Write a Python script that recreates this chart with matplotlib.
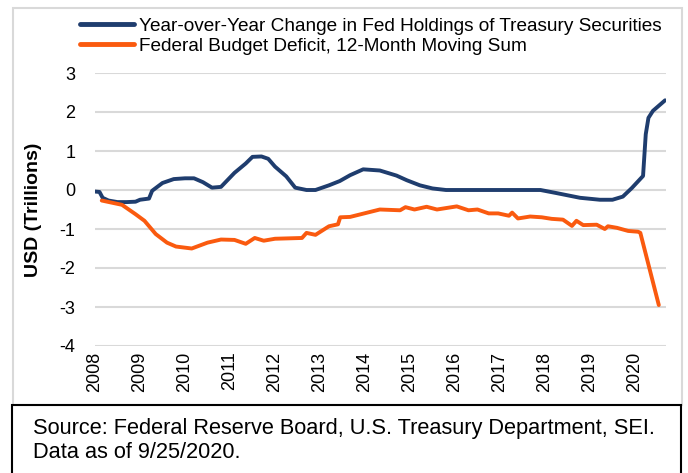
import matplotlib.pyplot as plt
from matplotlib.patches import Rectangle

plt.rcParams['font.family'] = ['Liberation Sans', 'DejaVu Sans']
plt.rcParams['axes.unicode_minus'] = False

# Year-over-year change in Fed holdings of Treasuries (USD trillions)
fed_years = [2008.0, 2008.1, 2008.17, 2008.3, 2008.5, 2008.7, 2008.9, 2009.0, 2009.2, 2009.27,
             2009.35, 2009.5, 2009.75, 2010.0, 2010.2, 2010.4, 2010.6, 2010.8, 2011.1, 2011.35,
             2011.5, 2011.7, 2011.85, 2012.0, 2012.25, 2012.45, 2012.7, 2012.9, 2013.2, 2013.44,
             2013.67, 2013.96, 2014.33, 2014.7, 2014.93, 2015.22, 2015.5, 2015.8, 2017.1, 2017.9,
             2018.26, 2018.78, 2019.22, 2019.5, 2019.73, 2019.93, 2020.18, 2020.24, 2020.3, 2020.4,
             2020.67]
fed_vals = [-0.04, -0.05, -0.2, -0.27, -0.31, -0.31, -0.3, -0.25, -0.22, -0.02,
            0.05, 0.18, 0.28, 0.3, 0.3, 0.2, 0.06, 0.08, 0.44, 0.68,
            0.85, 0.86, 0.8, 0.6, 0.35, 0.06, 0.0, 0.0, 0.12, 0.23,
            0.38, 0.53, 0.5, 0.37, 0.25, 0.12, 0.04, 0.0, 0.0, 0.0,
            -0.08, -0.2, -0.25, -0.25, -0.17, 0.05, 0.36, 1.43, 1.85, 2.03,
            2.3]

# Federal budget deficit, 12-month moving sum (USD trillions)
def_years = [2008.15, 2008.6, 2008.9, 2009.1, 2009.35, 2009.6, 2009.8, 2010.15, 2010.5, 2010.8,
             2011.1, 2011.35, 2011.55, 2011.75, 2012.0, 2012.6, 2012.7, 2012.9, 2013.2, 2013.4,
             2013.45, 2013.67, 2014.33, 2014.78, 2014.9, 2015.1, 2015.37, 2015.6, 2016.04, 2016.3,
             2016.5, 2016.75, 2016.96, 2017.2, 2017.27, 2017.4, 2017.67, 2017.93, 2018.15, 2018.4,
             2018.6, 2018.7, 2018.85, 2019.15, 2019.33, 2019.4, 2019.6, 2019.85, 2020.07, 2020.12,
             2020.53]
def_vals = [-0.27, -0.38, -0.62, -0.79, -1.13, -1.35, -1.45, -1.5, -1.35, -1.27,
            -1.28, -1.38, -1.23, -1.3, -1.25, -1.23, -1.1, -1.15, -0.93, -0.88,
            -0.7, -0.69, -0.5, -0.52, -0.44, -0.5, -0.43, -0.5, -0.42, -0.52,
            -0.5, -0.6, -0.6, -0.66, -0.58, -0.73, -0.68, -0.7, -0.74, -0.76,
            -0.92, -0.79, -0.9, -0.89, -1.0, -0.93, -0.97, -1.05, -1.07, -1.1,
            -2.95]

year_ticks = list(range(2008, 2021))
y_ticks = [3, 2, 1, 0, -1, -2, -3, -4]

fig = plt.figure(figsize=(6.88, 4.73), dpi=100)

# outer frame of chart area and the source box
fig.patches.append(Rectangle((13/688, 1 - 405/473), 669/688, 397/473, transform=fig.transFigure,
                             fill=False, edgecolor='#d9d9d9', linewidth=1.5))
fig.patches.append(Rectangle((12/688, -0.05), 669/688, 1 - 405/473 + 0.05, transform=fig.transFigure,
                             fill=False, edgecolor='black', linewidth=1.5))

ax = fig.add_axes([95/688, 1 - 346/473, 571/688, 273/473])
l1, = ax.plot(fed_years, fed_vals, color='#1f3d6e', linewidth=2.8, solid_joinstyle='round',
              solid_capstyle='round')
l2, = ax.plot(def_years, def_vals, color='#fa5a0f', linewidth=2.8, solid_joinstyle='round',
              solid_capstyle='round')

ax.set_xlim(2008, 2020.69)
ax.set_ylim(-4, 3)
ax.set_yticks(y_ticks)
ax.set_xticks(year_ticks)
ax.set_xticklabels([str(y) for y in year_ticks], rotation=90, fontsize=13)
ax.tick_params(axis='y', labelsize=13, length=0, pad=14)
ax.tick_params(axis='x', length=0, pad=4)
ax.grid(axis='y', color='#d9d9d9', linewidth=1.5)
ax.set_axisbelow(True)
for s in ax.spines.values():
    s.set_visible(False)
ax.set_ylabel('USD (Trillions)', fontsize=14, fontweight='bold')
ax.yaxis.set_label_coords(-53/571, 0.5)

fig.legend([l1, l2], ['Year-over-Year Change in Fed Holdings of Treasury Securities',
                      'Federal Budget Deficit, 12-Month Moving Sum'],
           loc='upper left', bbox_to_anchor=(72/688, 1 - 10/473), frameon=False, fontsize=13.7,
           handlelength=2.85, handletextpad=0.25, labelspacing=0.15, borderaxespad=0)
for h in fig.legends[0].get_lines():
    h.set_linewidth(3.5)

fig.text(33/688, 1 - 428/473, 'Source: Federal Reserve Board, U.S. Treasury Department, SEI.',
         fontsize=15.7, va='center')
fig.text(33/688, 1 - 452/473, 'Data as of 9/25/2020.', fontsize=15.7, va='center')

plt.savefig('out.png', dpi=100)
